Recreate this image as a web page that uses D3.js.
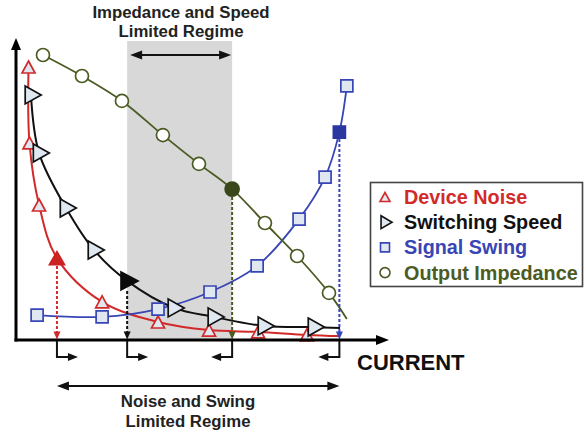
<!DOCTYPE html>
<html>
<head>
<meta charset="utf-8">
<script src="https://cdn.jsdelivr.net/npm/d3@7"></script>
<style>
  body { margin: 0; background: #fff; }
  svg { display: block; }
  text { font-family: "Liberation Sans", Arial, Helvetica, sans-serif; font-weight: bold; }
</style>
</head>
<body>
<svg id="chart" width="586" height="433"></svg>
<script>
// ---- data (arbitrary units: current on x, metric on y) ----
const seriesNames = ["Device Noise", "Switching Speed", "Signal Swing", "Output Impedance"];

const noiseX = [0.385, 0.415, 0.71, 1.26, 2.65, 4.37, 5.94, 7.45, 8.95, 9.97];
const noiseY = [9.1, 6.57, 4.5, 2.73, 1.27, 0.6, 0.33, 0.27, 0.17, 0.13];
const noiseMarks = 9;      // first 9 points carry a marker
const noiseOp = 3;         // operating point (filled)

const speedX = [0.46, 0.71, 1.54, 2.4, 3.42, 4.86, 6.09, 7.63, 9.17, 9.97];
const speedY = [8.17, 6.23, 4.4, 3.0, 1.97, 1.07, 0.77, 0.47, 0.43, 0.4];
const speedMarks = 9;
const speedOp = 4;

const swingX = [0.65, 2.65, 4.37, 5.97, 7.42, 8.71, 9.51, 9.95, 10.18];
const swingY = [0.83, 0.77, 1.03, 1.6, 2.47, 4.03, 5.43, 6.93, 8.47];
const swingMarks = 9;
const swingOp = 7;

const impX = [0.83, 2.03, 3.26, 4.52, 5.63, 6.65, 7.66, 8.65, 9.63, 10.18];
const impY = [9.5, 8.8, 7.97, 6.83, 5.87, 5.03, 3.9, 2.8, 1.57, 0.7];
const impMarks = 9;
const impOp = 5;

const axisLabel = "CURRENT";
const topRegime = ["Impedance and Speed", "Limited Regime"];
const bottomRegime = ["Noise and Swing", "Limited Regime"];

// ---- styles ----
const colors = { noise: "#d22a2a", speed: "#111111", swing: "#3845b5", imp: "#4b5b24" };
const opFill = { noise: "#cc2222", speed: "#0a0a0a", swing: "#2b379f", imp: "#39471b" };
const markFill = "#dfe7f1";

const svg = d3.select("#chart");
const x = d3.scaleLinear().domain([0, 10]).range([16, 341]);
const y = d3.scaleLinear().domain([0, 10]).range([340, 40]);

// ---- shaded regime band ----
const bandL = x(speedX[speedOp]), bandR = x(impX[impOp]);
svg.append("rect")
  .attr("x", bandL).attr("y", 41)
  .attr("width", bandR - bandL).attr("height", y(0) - 41)
  .attr("fill", "#d8d8d8");

// ---- helpers ----
function arrowHead(g, tx, ty, dir, len, wid, color) {
  // tip at (tx,ty), dir: "up","down","left","right"
  let p;
  if (dir === "right") p = [[tx, ty], [tx - len, ty - wid / 2], [tx - len, ty + wid / 2]];
  if (dir === "left")  p = [[tx, ty], [tx + len, ty - wid / 2], [tx + len, ty + wid / 2]];
  if (dir === "down")  p = [[tx, ty], [tx - wid / 2, ty - len], [tx + wid / 2, ty - len]];
  if (dir === "up")    p = [[tx, ty], [tx - wid / 2, ty + len], [tx + wid / 2, ty + len]];
  g.append("path").attr("d", "M" + p.map(d => d.join(",")).join("L") + "Z").attr("fill", color);
}
const triUp = (w, h) => `M0,${-h / 2}L${w / 2},${h / 2}L${-w / 2},${h / 2}Z`;
const triRight = (w, h) => `M${-w * 0.36},${-h / 2}L${w * 0.64},0L${-w * 0.36},${h / 2}Z`;
const square = s => `M${-s / 2},${-s / 2}h${s}v${s}h${-s}Z`;
const circle = r => `M${r},0A${r},${r} 0 1,1 ${-r},0A${r},${r} 0 1,1 ${r},0Z`;

const series = [
  { key: "noise", xs: noiseX, ys: noiseY, n: noiseMarks, op: noiseOp, shape: () => triUp(13, 12), opShape: () => triUp(15, 13), sw: 2 },
  { key: "speed", xs: speedX, ys: speedY, n: speedMarks, op: speedOp, shape: () => triRight(16, 18), opShape: () => triRight(17, 18), sw: 2 },
  { key: "swing", xs: swingX, ys: swingY, n: swingMarks, op: swingOp, shape: () => square(12), opShape: () => square(12), sw: 1.8 },
  { key: "imp",   xs: impX,   ys: impY,   n: impMarks,   op: impOp,   shape: () => circle(6.5), opShape: () => circle(7), sw: 1.8 }
];

const line = d3.line().x(d => x(d[0])).y(d => y(d[1])).curve(d3.curveCatmullRom.alpha(0.5));

// ---- curves ----
series.forEach(s => {
  const pts = s.xs.map((v, i) => [v, s.ys[i]]);
  svg.append("path").attr("d", line(pts))
    .attr("fill", "none").attr("stroke", colors[s.key]).attr("stroke-width", s.sw);
});

// ---- dotted drop lines from operating points to the current axis ----
const dropOffsets = { noise: 8, speed: 10, swing: 7, imp: 8 };
series.forEach(s => {
  const px = x(s.xs[s.op]), py = y(s.ys[s.op]) + dropOffsets[s.key];
  const g = svg.append("g");
  g.append("line").attr("x1", px).attr("x2", px).attr("y1", py).attr("y2", y(0) - 7)
    .attr("stroke", colors[s.key]).attr("stroke-width", 2).attr("stroke-dasharray", "3,2");
  arrowHead(g, px, y(0) - 0.5, "down", 8, 7, colors[s.key]);
});

// ---- markers ----
series.forEach(s => {
  const g = svg.append("g");
  for (let i = 0; i < s.n; i++) {
    const isOp = i === s.op;
    g.append("path")
      .attr("transform", `translate(${x(s.xs[i])},${y(s.ys[i])})`)
      .attr("d", isOp ? s.opShape() : s.shape())
      .attr("fill", isOp ? opFill[s.key] : (s.key === "imp" ? "#ffffff" : markFill))
      .attr("stroke", isOp ? opFill[s.key] : colors[s.key])
      .attr("stroke-width", 1.7)
      .attr("stroke-linejoin", "miter");
  }
});

// ---- axes ----
const axes = svg.append("g");
axes.append("line").attr("x1", x(0)).attr("x2", x(0)).attr("y1", y(0) + 1.5).attr("y2", 48)
  .attr("stroke", "#000").attr("stroke-width", 3);
arrowHead(axes, x(0), 38, "up", 12, 10, "#000");
axes.append("line").attr("x1", x(0) - 1.5).attr("x2", 378).attr("y1", y(0)).attr("y2", y(0))
  .attr("stroke", "#000").attr("stroke-width", 3);
arrowHead(axes, 389, y(0), "right", 13, 10, "#000");
axes.append("text").attr("x", 357).attr("y", 370).attr("font-size", 22).attr("fill", "#111").text(axisLabel);

// ---- bent arrows under the axis at each operating point ----
const bends = [
  { key: "noise", s: series[0], dir: 1 },
  { key: "speed", s: series[1], dir: 1 },
  { key: "imp",   s: series[3], dir: -1 },
  { key: "swing", s: series[2], dir: -1 }
];
bends.forEach(b => {
  const px = x(b.s.xs[b.s.op]);
  const g = svg.append("g");
  const yb = 357;
  g.append("path").attr("d", `M${px},${y(0) + 1}V${yb}H${px + b.dir * 12}`)
    .attr("fill", "none").attr("stroke", "#111").attr("stroke-width", 2);
  arrowHead(g, px + b.dir * 21, yb, b.dir > 0 ? "right" : "left", 10, 8, "#111");
});

// ---- regime arrows and labels ----
function doubleArrow(x1, x2, yy) {
  const g = svg.append("g");
  g.append("line").attr("x1", x1 + 8).attr("x2", x2 - 8).attr("y1", yy).attr("y2", yy)
    .attr("stroke", "#111").attr("stroke-width", 2);
  arrowHead(g, x1, yy, "left", 12, 9, "#111");
  arrowHead(g, x2, yy, "right", 12, 9, "#111");
}
doubleArrow(bandL + 3, bandR - 1, 55);
doubleArrow(x(noiseX[noiseOp]), x(swingX[swingOp]), 386);

svg.append("text").attr("x", 181).attr("y", 18).attr("text-anchor", "middle")
  .attr("font-size", 16.8).attr("fill", "#222").text(topRegime[0]);
svg.append("text").attr("x", 181).attr("y", 37).attr("text-anchor", "middle")
  .attr("font-size", 16.8).attr("fill", "#222").text(topRegime[1]);
svg.append("text").attr("x", 188).attr("y", 407).attr("text-anchor", "middle")
  .attr("font-size", 16.8).attr("fill", "#222").text(bottomRegime[0]);
svg.append("text").attr("x", 188).attr("y", 427).attr("text-anchor", "middle")
  .attr("font-size", 16.8).attr("fill", "#222").text(bottomRegime[1]);

// ---- legend ----
const legend = svg.append("g");
legend.append("rect").attr("x", 370.5).attr("y", 182.5).attr("width", 212).attr("height", 104)
  .attr("fill", "#fff").attr("stroke", "#444").attr("stroke-width", 1.6);
const legendShapes = [() => triUp(10, 9), () => triRight(11, 13), () => square(9), () => circle(5)];
const legendKeys = ["noise", "speed", "swing", "imp"];
seriesNames.forEach((name, i) => {
  const cy = 197 + i * 25.2;
  legend.append("path").attr("transform", `translate(385,${cy})`).attr("d", legendShapes[i]())
    .attr("fill", legendKeys[i] === "imp" ? "#fff" : markFill)
    .attr("stroke", colors[legendKeys[i]]).attr("stroke-width", 1.6);
  legend.append("text").attr("x", 404).attr("y", cy + 7).attr("font-size", 19.8)
    .attr("fill", colors[legendKeys[i]]).text(name);
});
</script>
</body>
</html>
